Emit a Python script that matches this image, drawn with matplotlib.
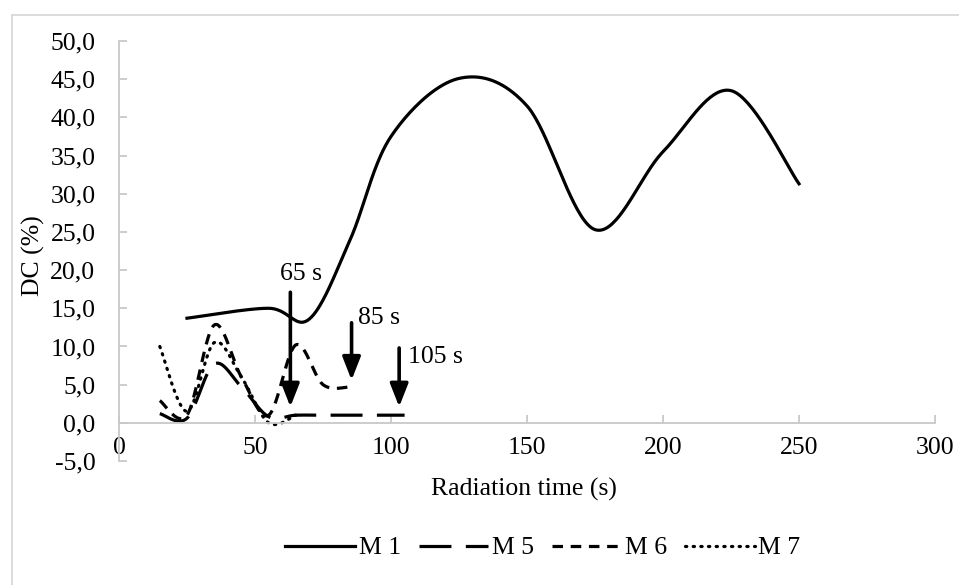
import numpy as np
import matplotlib
matplotlib.use("Agg")
import matplotlib.pyplot as plt
from matplotlib.lines import Line2D
from matplotlib.ticker import FuncFormatter, MultipleLocator

# ---- data ----
m1_x = [25, 55, 70, 85, 100, 125, 150, 175, 200, 225, 250]
m1_y = [13.7, 15.0, 13.6, 24.0, 37.5, 45.1, 41.5, 25.3, 35.5, 43.5, 31.3]

m5_x = [15, 25, 35, 45, 55, 65, 75, 85, 95, 105]
m5_y = [1.2, 0.6, 7.7, 4.7, 0.8, 1.0, 1.0, 1.0, 1.0, 1.0]

m6_x = [15, 25, 35, 45, 55, 65, 75, 85]
m6_y = [2.9, 1.0, 12.8, 6.0, 1.0, 10.2, 5.0, 4.7]

m7_x = [15, 25, 35, 45, 55, 65]
m7_y = [10.0, 1.5, 10.5, 6.0, 0.0, 1.0]

series_names = ["M 1", "M 5", "M 6", "M 7"]

arrow_labels = ["65 s", "85 s", "105 s"]
arrow_x = [63, 85.5, 103]
arrow_top = [17.1, 13.1, 9.8]
arrow_tip = [2.1, 5.6, 2.1]
label_x = [59.3, 88, 106.4]
label_y = [19.5, 13.7, 8.6]

x_ticks = [0, 50, 100, 150, 200, 250, 300]


def smooth(xs, ys, n=40):
    """Excel-like smoothed line (Bezier with control points from neighbours)."""
    P = np.column_stack([xs, ys]).astype(float)
    out = []
    t = np.linspace(0, 1, n)[:, None]
    for i in range(len(P) - 1):
        p0 = P[i - 1] if i > 0 else P[i]
        p3 = P[i + 2] if i + 2 < len(P) else P[i + 1]
        c1 = P[i] + (P[i + 1] - p0) / 6.0
        c2 = P[i + 1] - (p3 - P[i]) / 6.0
        seg = ((1 - t) ** 3) * P[i] + 3 * ((1 - t) ** 2) * t * c1 \
            + 3 * (1 - t) * t ** 2 * c2 + t ** 3 * P[i + 1]
        out.append(seg if i == 0 else seg[1:])
    out = np.vstack(out)
    return out[:, 0], out[:, 1]


plt.rcParams['font.family'] = ['Liberation Serif', 'DejaVu Serif']
FS = 18.5

fig = plt.figure(figsize=(9.59, 5.85), dpi=100)
ax = fig.add_axes([119 / 959, 1 - 461 / 585, (935 - 119) / 959, (461 - 41) / 585])

lw = 2.3
styles = [
    dict(linestyle='-'),
    dict(linestyle=(0, (10, 4.5))),
    dict(linestyle=(0, (3.3, 2.4))),
    dict(linestyle=(0, (0.4, 2.0)), dash_capstyle='round'),
]
data = [(m1_x, m1_y), (m5_x, m5_y), (m6_x, m6_y), (m7_x, m7_y)]
handles = []
for (xs, ys), st, name in zip(data, styles, series_names):
    sx, sy = smooth(xs, ys)
    kw = dict(st)
    kw.setdefault('dash_capstyle', 'butt')
    ln, = ax.plot(sx, sy, color='black', lw=lw, label=name, **kw)
    handles.append(ln)

# arrows and labels
for ax_x, top, tip, lab, lx, ly in zip(arrow_x, arrow_top, arrow_tip, arrow_labels, label_x, label_y):
    ax.annotate('', xy=(ax_x, tip), xytext=(ax_x, top),
                arrowprops=dict(arrowstyle='-|>,head_length=1.4,head_width=0.55',
                                color='black', lw=2.6, shrinkA=0, shrinkB=0))
    ax.text(lx, ly, lab, fontsize=FS, ha='left', va='center', color='black')

ax.set_xlim(0, 300)
ax.set_ylim(-5, 50)
ax.yaxis.set_major_locator(MultipleLocator(5))
ax.set_xticks(x_ticks)
ax.yaxis.set_major_formatter(FuncFormatter(lambda v, p: f"{v:.1f}".replace('.', ',').replace('-0,0', '0,0')))
ax.xaxis.set_major_formatter(FuncFormatter(lambda v, p: f"{v:.0f}"))

axcol = '#c8c8c8'
for s in ['top', 'right']:
    ax.spines[s].set_visible(False)
ax.spines['bottom'].set_position(('data', 0))
ax.spines['bottom'].set_color(axcol)
ax.spines['left'].set_color(axcol)
ax.spines['bottom'].set_linewidth(1.3)
ax.spines['left'].set_linewidth(1.3)
ax.tick_params(axis='x', direction='in', length=6, width=1.3, color=axcol, pad=10,
               labelsize=FS, labelcolor='black')
ax.tick_params(axis='y', direction='in', length=6, width=1.3, color=axcol, pad=17,
               labelsize=FS, labelcolor='black')
ax.set_facecolor('none')

ax.set_xlabel('Radiation time (s)', fontsize=FS)
ax.xaxis.set_label_coords((524 - 119) / (935 - 119), -(478 - 461) / (461 - 41))
ax.set_ylabel('DC (%)', fontsize=FS)
ax.yaxis.set_label_coords(-(119 - 45) / (935 - 119), (461 - 256) / (461 - 41))

leg = fig.legend(handles=handles, loc='center', bbox_to_anchor=(543 / 959, 1 - 548 / 585),
                 ncol=4, frameon=False, fontsize=FS, handlelength=2.7,
                 handletextpad=0.15, columnspacing=0.7, borderaxespad=0)

# chart-area border
fig.add_artist(Line2D([12 / 959, 12 / 959], [0, 1 - 15 / 585], transform=fig.transFigure,
                      color='#d9d9d9', lw=1.3))
fig.add_artist(Line2D([12 / 959, 1], [1 - 15 / 585, 1 - 15 / 585], transform=fig.transFigure,
                      color='#d9d9d9', lw=1.3))

fig.savefig('out.png', dpi=100)
